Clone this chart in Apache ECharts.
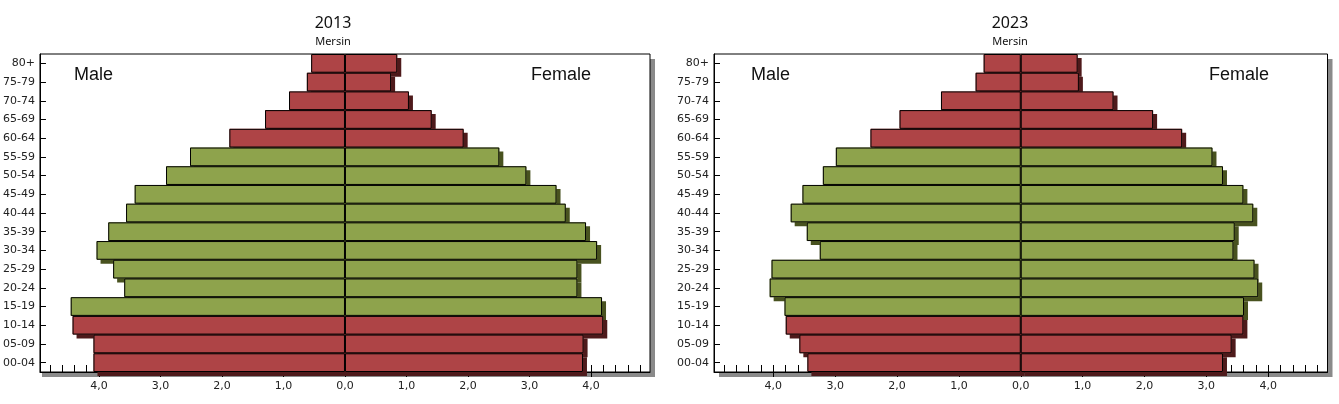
<!DOCTYPE html>
<html>
<head>
<meta charset="utf-8">
<script src="https://cdn.jsdelivr.net/npm/echarts@6/dist/echarts.min.js"></script>
<style>
html,body{margin:0;padding:0;background:#fff;}
#chart{width:1339px;height:404px;}
</style>
</head>
<body>
<div id="chart"></div>
<script>
// ---- data ----
const categories = ['80+','75-79','70-74','65-69','60-64','55-59','50-54','45-49','40-44','35-39','30-34','25-29','20-24','15-19','10-14','05-09','00-04'];
const ageGroup = ['old','old','old','old','old','working','working','working','working','working','working','working','working','working','young','young','young'];
const male2013   = [0.55,0.62,0.91,1.30,1.88,2.52,2.91,3.42,3.56,3.85,4.04,3.77,3.59,4.46,4.43,4.09,4.09];
const female2013 = [0.85,0.75,1.04,1.41,1.93,2.51,2.95,3.44,3.59,3.92,4.10,3.78,3.78,4.18,4.20,3.88,3.87];
const male2023   = [0.60,0.73,1.29,1.96,2.43,2.99,3.20,3.53,3.72,3.46,3.25,4.03,4.06,3.82,3.80,3.58,3.45];
const female2023 = [0.92,0.94,1.50,2.14,2.61,3.10,3.27,3.60,3.76,3.46,3.44,3.78,3.84,3.61,3.60,3.41,3.27];
const majorTicks = [-4,-3,-2,-1,0,1,2,3,4];
const axisMin = -4.96, axisMax = 4.96;

// ---- styles ----
const RED = '#AE4446', GREEN = '#8EA34C';
const RED_SH = '#4e1a1b', GREEN_SH = '#48521f';
function fillStyleFor(i){
  const dep = ageGroup[i] !== 'working';
  return {color: dep ? RED : GREEN, shadowColor: dep ? RED_SH : GREEN_SH};
}
const minorTicks = [];
for (let i = -24; i <= 24; i++) minorTicks.push(i / 5);

const fmt = v => Math.abs(v).toFixed(1).replace('.', ',');

function xAxesFor(g){
  return [
    {gridIndex:g, type:'value', min:axisMin, max:axisMax, position:'bottom',
     axisLine:{show:true, onZero:false, lineStyle:{color:'#000', width:1}},
     axisTick:{show:true, customValues:minorTicks, inside:true, length:7, lineStyle:{color:'#000', width:1}},
     axisLabel:{show:false}, splitLine:{show:false}},
    {gridIndex:g, type:'value', min:axisMin, max:axisMax, position:'bottom',
     axisLine:{show:false},
     axisTick:{show:true, customValues:majorTicks, inside:false, length:5, lineStyle:{color:'#000', width:1}},
     axisLabel:{show:true, customValues:majorTicks, formatter:fmt, margin:9, color:'#222',
                fontFamily:'DejaVu Sans', fontSize:11},
     splitLine:{show:false}}
  ];
}
function yAxisFor(g){
  return {gridIndex:g, type:'category', data:categories, inverse:true,
    axisLine:{show:true, onZero:false, lineStyle:{color:'#000'}},
    axisTick:{show:true, inside:true, length:6, alignWithLabel:true, lineStyle:{color:'#000'}},
    axisLabel:{color:'#222', fontFamily:'DejaVu Sans', fontSize:11, margin:5},
    splitLine:{show:false}};
}
// filled bar with 3D-like drop shadow (no border)
function fillSeries(vals, sign, xIdx, yIdx){
  return {type:'bar', xAxisIndex:xIdx, yAxisIndex:yIdx, silent:true, z:2,
    barCategoryGap:'0%', barGap:'-100%',
    itemStyle:{borderWidth:0, shadowBlur:0, shadowOffsetX:4, shadowOffsetY:4},
    data: vals.map((v,i)=>({value: sign*v, itemStyle: fillStyleFor(i)}))};
}
// outline of the same bar (no shadow)
function edgeSeries(vals, sign, xIdx, yIdx){
  return {type:'bar', xAxisIndex:xIdx, yAxisIndex:yIdx, silent:true, z:3,
    barCategoryGap:'0%', barGap:'-100%',
    itemStyle:{color:'rgba(0,0,0,0)', borderColor:'#000', borderWidth:1},
    data: vals.map(v=>sign*v)};
}
const grids = [
  {left:37, top:54, width:613, height:318},
  {left:714, top:54, width:613.5, height:318}
];
const gridStyle = {show:true, backgroundColor:'#fff', borderColor:'#000', borderWidth:1};

function txt(x, y, s, size, family, align){
  return {type:'text', x:x, y:y, z:100,
    style:{text:s, fill:'#111', font: size + 'px "' + family + '"', textAlign:align, textVerticalAlign:'middle'}};
}
// gray drop shadow of each plot frame
function frameShadow(g){
  return {type:'rect', z:-100, silent:true,
    shape:{x:g.left+5, y:g.top+5, width:g.width, height:g.height},
    style:{fill:'#8a8a8a'}};
}

const chart = echarts.init(document.getElementById('chart'), null, {renderer:'canvas'});
chart.setOption({
  animation:false,
  grid: grids.map(g => Object.assign({}, g, gridStyle)),
  xAxis: xAxesFor(0).concat(xAxesFor(1)),
  yAxis: [yAxisFor(0), yAxisFor(1)],
  series:[
    fillSeries(male2013, -1, 0, 0),
    fillSeries(female2013, 1, 0, 0),
    edgeSeries(male2013, -1, 0, 0),
    edgeSeries(female2013, 1, 0, 0),
    fillSeries(male2023, -1, 2, 1),
    fillSeries(female2023, 1, 2, 1),
    edgeSeries(male2023, -1, 2, 1),
    edgeSeries(female2023, 1, 2, 1)
  ],
  graphic:{elements:[
    frameShadow(grids[0]),
    frameShadow(grids[1]),
    txt(333, 23.5, '2013', 16, 'Noto Sans', 'center'),
    txt(333, 42, 'Mersin', 11, 'Noto Sans', 'center'),
    txt(74, 75, 'Male', 18, 'Liberation Sans', 'left'),
    txt(531, 75, 'Female', 18, 'Liberation Sans', 'left'),
    txt(1010, 23.5, '2023', 16, 'Noto Sans', 'center'),
    txt(1010, 42, 'Mersin', 11, 'Noto Sans', 'center'),
    txt(751, 75, 'Male', 18, 'Liberation Sans', 'left'),
    txt(1209, 75, 'Female', 18, 'Liberation Sans', 'left')
  ]}
});
</script>
</body>
</html>
